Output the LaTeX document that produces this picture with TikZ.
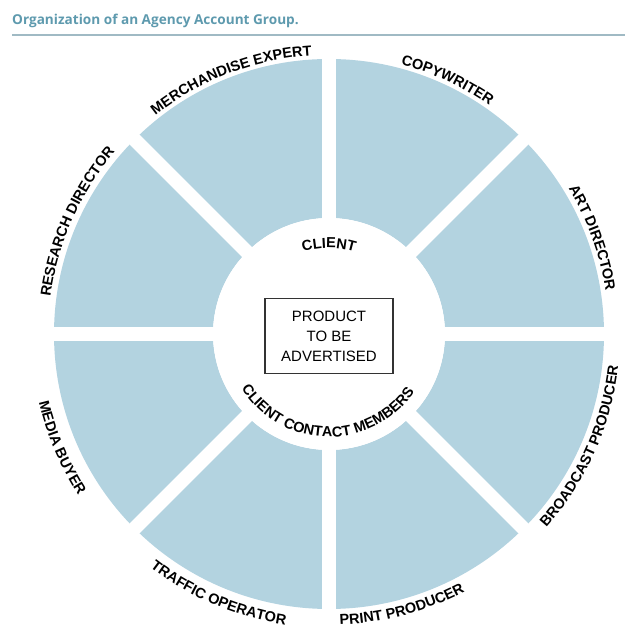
\documentclass[tikz,border=0pt]{standalone}
\usepackage{fontspec}
\setmainfont{Liberation Sans}
\newfontfamily\titlefont{Open Sans}
\usetikzlibrary{calc,decorations.text}

\definecolor{segblue}{RGB}{179,211,224}
\definecolor{titleteal}{RGB}{94,154,174}
\definecolor{ruleteal}{RGB}{160,186,196}

\newcommand{\lblfont}{\bfseries\fontsize{14.5}{18}\selectfont}

\tikzset{
  gap/.style={white, line width=14pt},
  arclabel/.style={decorate, decoration={text along path, text align={center}, text={|\lblfont|#1}}},
  productbox/.style={draw=black!80, line width=1.2pt, minimum width=128pt, minimum height=75pt,
    align=center, font=\fontsize{15}{20}\selectfont}
}

\begin{document}
\begin{tikzpicture}[x=1pt,y=1pt]
    \useasboundingbox (0,0) rectangle (625,629);
    \coordinate (C) at (329,295);
    % title
    \node [anchor=base west, inner sep=0, text=titleteal,
      font={\titlefont\bfseries\fontsize{13.6}{16}\selectfont}] (title) at (12,604)
      {Organization of an Agency Account Group.};
    \coordinate (R0) at (12,594);
    \coordinate (R1) at (625,594);
    \draw [ruleteal, line width=1.5pt] (R0) -- (R1);
    % ring
    \fill [segblue, even odd rule] (C) circle [radius=275pt] (C) circle [radius=116pt];
      \draw [gap] ($(C)+(0:290pt)$)
        -- ($(C)+(180:290pt)$);
      \draw [gap] ($(C)+(45:290pt)$)
        -- ($(C)+(225:290pt)$);
      \draw [gap] ($(C)+(90:290pt)$)
        -- ($(C)+(270:290pt)$);
      \draw [gap] ($(C)+(135:290pt)$)
        -- ($(C)+(315:290pt)$);
    \fill [white] (C) circle [radius=116pt];
    % outer labels, top half
    \path [arclabel={MERCHANDISE EXPERT}] ($(C)+(151:279pt)$)
      arc [start angle=151, end angle=71, radius=279pt];
    \path [arclabel={COPYWRITER}] ($(C)+(105:279pt)$)
      arc [start angle=105, end angle=25, radius=279pt];
    \path [arclabel={ART DIRECTOR}] ($(C)+(60:280pt)$)
      arc [start angle=60, end angle=-20, radius=280pt];
    \path [arclabel={RESEARCH DIRECTOR}] ($(C)+(196:281pt)$)
      arc [start angle=196, end angle=116, radius=281pt];
    % outer labels, bottom half
    \path [arclabel={BROADCAST PRODUCER}] ($(C)+(-64:291pt)$)
      arc [start angle=-64, end angle=16, radius=291pt];
    \path [arclabel={PRINT PRODUCER}] ($(C)+(-115:291pt)$)
      arc [start angle=-115, end angle=-35, radius=291pt];
    \path [arclabel={TRAFFIC OPERATOR}] ($(C)+(-153:294pt)$)
      arc [start angle=-153, end angle=-73, radius=294pt];
    \path [arclabel={MEDIA BUYER}] ($(C)+(-197:298pt)$)
      arc [start angle=-197, end angle=-117, radius=298pt];
    % inner circle
    \path [arclabel={CLIENT}] ($(C)+(130:86pt)$)
      arc [start angle=130, end angle=50, radius=86pt];
    \path [arclabel={CLIENT CONTACT MEMBERS}] ($(C)+(-171:103pt)$)
      arc [start angle=-171, end angle=-11, radius=103pt];
    \node [productbox] (product) at (329,293) {PRODUCT\\TO BE\\ADVERTISED};
\end{tikzpicture}
\end{document}
